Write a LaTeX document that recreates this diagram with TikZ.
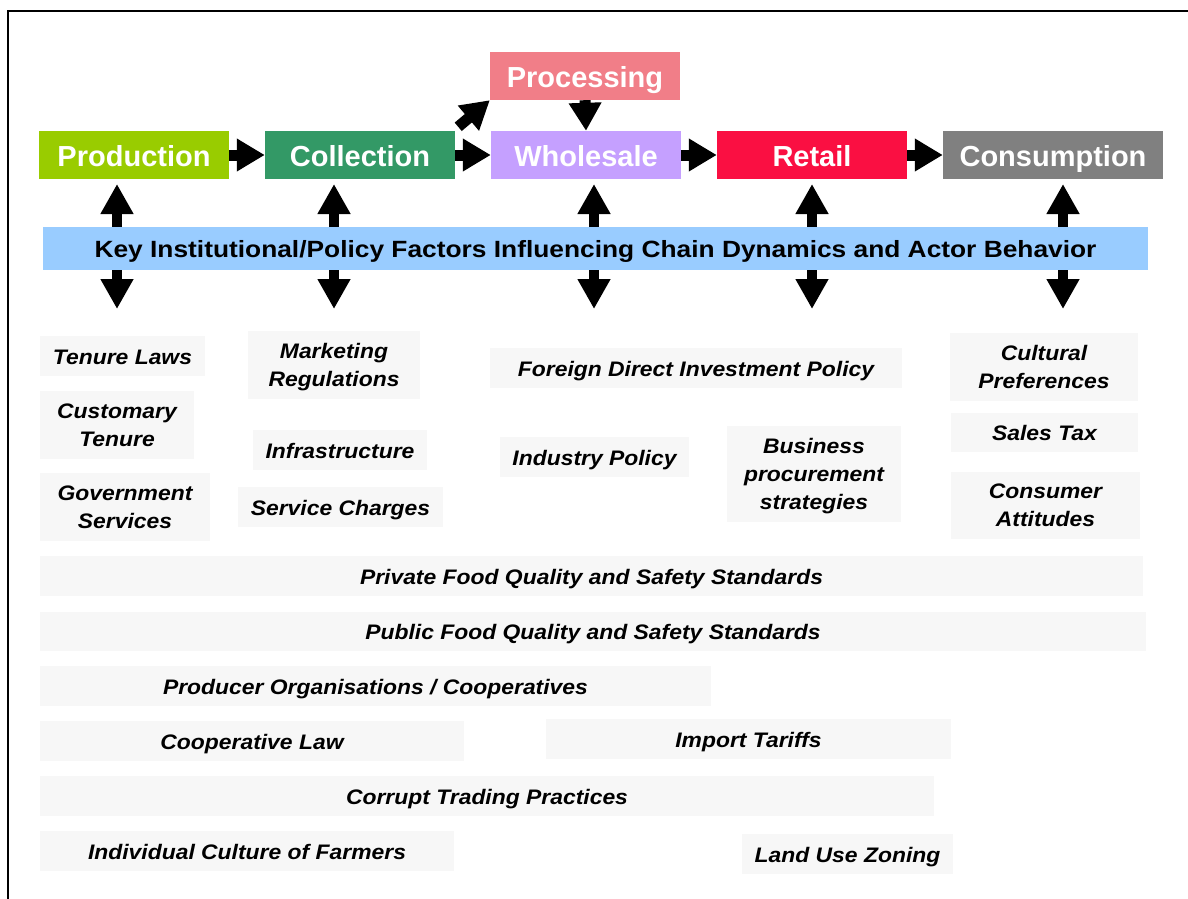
\documentclass[tikz,border=0pt]{standalone}
\usepackage{fontspec}
\setmainfont{Liberation Sans}
\newfontfamily\widefont[FakeStretch=1.09]{Liberation Sans}
\newfontfamily\barfont[FakeStretch=1.12]{Liberation Sans}
\usetikzlibrary{arrows.meta}
\definecolor{prodgreen}{HTML}{99CC00}
\definecolor{collgreen}{HTML}{339966}
\definecolor{procpink}{HTML}{F17E88}
\definecolor{wholelilac}{HTML}{C5A0FF}
\definecolor{retailred}{HTML}{FA0F42}
\definecolor{consgray}{HTML}{808080}
\definecolor{barblue}{HTML}{99CCFF}
\definecolor{factorgray}{HTML}{F7F7F7}
\begin{document}
\begin{tikzpicture}[x=1pt,y=-1pt,
  stage/.style={fill=#1, text=white, font=\fontsize{29}{34}\selectfont\bfseries,
    minimum width=190pt, minimum height=48pt, inner sep=0pt,
    text height=22pt, text depth=0pt},
  factor/.style={fill=factorgray, font=\widefont\fontsize{21}{28}\selectfont\bfseries\itshape,
    align=center, inner sep=0pt, text depth=-3pt},
  oneline/.style={factor, text height=16pt, text depth=0pt},
  flowarrow/.style={line width=11pt, -{Triangle[length=28pt,width=31pt]}},
  linkarrow/.style={line width=10pt, {Triangle[length=30pt,width=31pt]}-{Triangle[length=30pt,width=31pt]}}
]
\useasboundingbox (0,0) rectangle (1188,899);
% frame
\draw[line width=2.5pt] (8,899) -- (8,11) -- (1188,11);

% value chain stages
\node[stage=prodgreen] (prod) at (134,155) {Production};
\node[stage=collgreen] (coll) at (360,155) {Collection};
\node[stage=procpink] (proc) at (585,76) {Processing};
\node[stage=wholelilac] (whole) at (586,155) {Wholesale};
\node[stage=retailred] (retail) at (812,155) {Retail};
\node[stage=consgray, minimum width=220pt] (cons) at (1053,155) {Consumption};

% flow between stages
\draw[flowarrow] (prod.east) -- (coll.west);
\draw[flowarrow] (coll.east) -- (whole.west);
\draw[flowarrow] (whole.east) -- (retail.west);
\draw[flowarrow] (retail.east) -- (cons.west);
\draw[flowarrow] ([shift={(3,-4)}]coll.north east) -- (proc.south west);
\draw[flowarrow] (proc.south) -- (whole.north);

% links between stages and policy factors
\coordinate (pt) at (117,184);  \coordinate (pb) at (117,309);
\coordinate (ct) at (334,184);  \coordinate (cb) at (334,309);
\coordinate (wt) at (594,184);  \coordinate (wb) at (594,309);
\coordinate (rt) at (812,184);  \coordinate (rb) at (812,309);
\coordinate (kt) at (1063,184); \coordinate (kb) at (1063,309);
\foreach \a/\b in {pt/pb, ct/cb, wt/wb, rt/rb, kt/kb}
  \draw[linkarrow] (\a) -- (\b);

% policy factor bar
\node[fill=barblue, minimum width=1105pt, minimum height=43pt, inner sep=0pt,
  text height=17pt, text depth=0pt,
  font=\barfont\fontsize{23.5}{28}\selectfont\bfseries] (bar) at (595.5,248.5)
  {Key Institutional/Policy Factors Influencing Chain Dynamics and Actor Behavior};

% individual factors
\node[oneline, minimum width=165pt, minimum height=40pt] (tenure) at (122.5,356) {Tenure Laws};
\node[factor, minimum width=154pt, minimum height=68pt] (customary) at (117,425) {Customary\\Tenure};
\node[factor, minimum width=170pt, minimum height=68pt] (govserv) at (125,507) {Government\\Services};
\node[factor, minimum width=172pt, minimum height=68pt] (marketing) at (334,365) {Marketing\\Regulations};
\node[oneline, minimum width=174pt, minimum height=40pt] (infra) at (340,450) {Infrastructure};
\node[oneline, minimum width=205pt, minimum height=40pt] (service) at (340.5,507) {Service Charges};
\node[oneline, minimum width=412pt, minimum height=40pt] (fdi) at (696,368) {Foreign Direct Investment Policy};
\node[oneline, minimum width=189pt, minimum height=40pt] (industry) at (594.5,457) {Industry Policy};
\node[factor, minimum width=174pt, minimum height=96pt] (business) at (814,474) {Business\\procurement\\strategies};
\node[factor, minimum width=188pt, minimum height=68pt] (cultural) at (1044,367) {Cultural\\Preferences};
\node[oneline, minimum width=187pt, minimum height=39pt] (salestax) at (1044.5,432.5) {Sales Tax};
\node[factor, minimum width=189pt, minimum height=67pt] (consumer) at (1045.5,505.5) {Consumer\\Attitudes};
\node[oneline, minimum width=1103pt, minimum height=40pt] (private) at (591.5,576) {Private Food Quality and Safety Standards};
\node[oneline, minimum width=1106pt, minimum height=39pt] (public) at (593,631.5) {Public Food Quality and Safety Standards};
\node[oneline, minimum width=671pt, minimum height=40pt] (producer) at (375.5,686) {Producer Organisations / Cooperatives};
\node[oneline, minimum width=424pt, minimum height=40pt] (cooplaw) at (252,741) {Cooperative Law};
\node[oneline, minimum width=405pt, minimum height=40pt] (import) at (748.5,739) {Import Tariffs};
\node[oneline, minimum width=894pt, minimum height=40pt] (corrupt) at (487,796) {Corrupt Trading Practices};
\node[oneline, minimum width=414pt, minimum height=40pt] (individual) at (247,851) {Individual Culture of Farmers};
\node[oneline, minimum width=211pt, minimum height=40pt] (landuse) at (847.5,854) {Land Use Zoning};
\end{tikzpicture}
\end{document}
